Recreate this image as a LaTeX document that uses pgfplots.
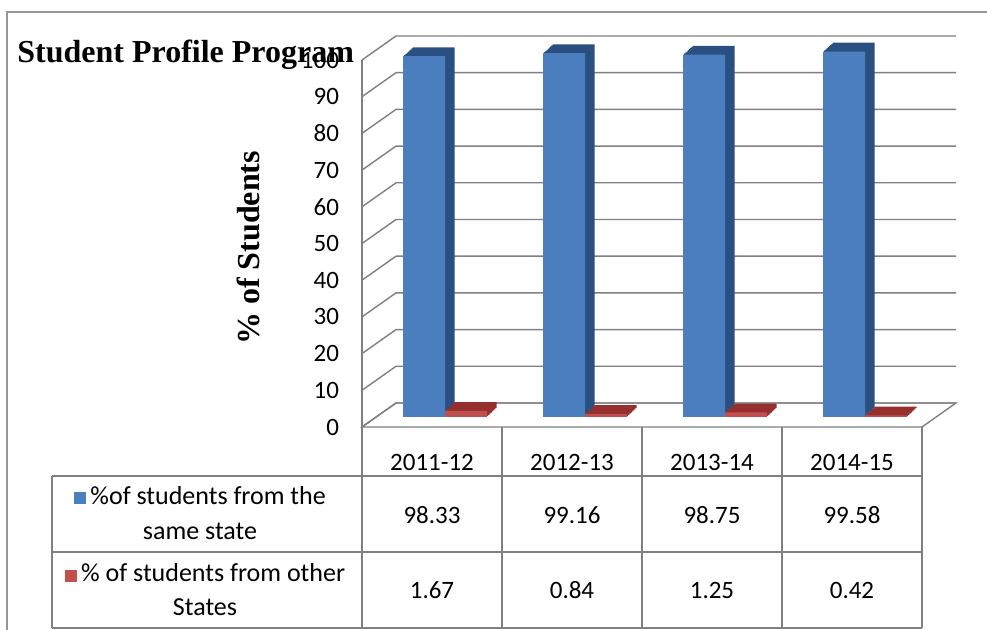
\documentclass[border=0pt]{standalone}
\usepackage{pgfplots}
\pgfplotsset{compat=1.18}
\usepackage{pgfplotstable}
\usepackage{fontspec}
\setmainfont{Carlito}
\newfontfamily\tnr{Liberation Serif}

\definecolor{bluefront}{RGB}{74,126,190}
\definecolor{blueside}{RGB}{42,80,130}
\definecolor{redfront}{RGB}{192,80,77}
\definecolor{redside}{RGB}{150,48,46}
\definecolor{gridc}{RGB}{128,128,128}
\definecolor{framec}{RGB}{150,150,150}

% one row per academic year
\pgfplotstableread{
x same other
0 98.33 1.67
1 99.16 0.84
2 98.75 1.25
3 99.58 0.42
}\students

\begin{document}
\begin{tikzpicture}
% pixel scope: (x,y) as in the 987x630 picture, y down
\begin{scope}[x=0.5pt,y=-0.5pt,yshift=315pt]
  \useasboundingbox (0,0) rectangle (987,630);
  \fill[white] (0,0) rectangle (987,630);
  \draw[framec, line width=0.8pt] (7,630) -- (7,12) -- (987,12);
\end{scope}

\begin{axis}[
    at={(181pt,101.5pt)}, anchor=south west,
    scale only axis, width=280pt, height=183.5pt,
    xmin=-0.5, xmax=3.5, ymin=0, ymax=100,
    xtick=\empty,
    ytick={0,10,...,100},
    axis line style={draw=none},
    tick style={draw=none},
    yticklabel style={font=\fontsize{12.5}{15}\selectfont, xshift=-8pt},
    /pgf/number format/assume math mode=true,
    ybar, bar width=21pt,
    clip=false,
  ]
  % walls and floor of the 3-d frame
  \pgfplotsinvokeforeach{0,10,...,100}{
    \draw[gridc, line width=0.7pt] (axis cs:-0.5,#1) -- ++(17pt,12pt) -- ++(280pt,0pt);
  }
  \draw[gridc, line width=0.7pt] (axis cs:-0.5,0) -- ++(17pt,12pt) -- ++(280pt,0pt)
    -- (axis cs:3.5,0) -- cycle;
  \draw[gridc, line width=0.7pt] (axis cs:-0.5,0) -- (axis cs:-0.5,100);

  % depth of the columns: shifted copies behind the front faces
  \pgfplotsinvokeforeach{8,7,...,1}{
    \addplot[fill=blueside, draw=none, bar shift=-10.5pt,
      xshift=6.5pt+#1*0.6pt, yshift=5pt+#1*0.55pt] table[x=x,y=same]{\students};
    \addplot[fill=redside, draw=none, bar shift=10.5pt,
      xshift=6.5pt+#1*0.6pt, yshift=5pt+#1*0.55pt] table[x=x,y=other]{\students};
  }
  \addplot[fill=bluefront, draw=none, bar shift=-10.5pt, xshift=6.5pt, yshift=5pt]
    table[x=x,y=same]{\students};
  \addplot[fill=redfront, draw=none, bar shift=10.5pt, xshift=6.5pt, yshift=5pt]
    table[x=x,y=other]{\students};
\end{axis}

\begin{scope}[x=0.5pt,y=-0.5pt,yshift=315pt]
  \node[font=\tnr\bfseries\fontsize{16}{19}\selectfont, anchor=west, inner sep=0pt]
    at (17,55) {Student Profile Program};
  \node[font=\tnr\bfseries\fontsize{16}{19}\selectfont, rotate=90]
    at (248,248) {\% of Students};

  % data table
  \begin{scope}[gridc, line width=0.75pt]
    \draw (52,476) -- (922,476);
    \draw (52,552) -- (922,552);
    \draw (52,628) -- (922,628);
    \draw (52,476) -- (52,628);
    \foreach \x in {362,502,642,782,922} \draw (\x,427) -- (\x,628);
  \end{scope}
  \begin{scope}[font=\fontsize{12.5}{15}\selectfont]
    \foreach \x/\t in {432/2011-12, 572/2012-13, 712/2013-14, 852/2014-15}
      \node at (\x,462) {\t};
    \foreach \x/\t in {432/98.33, 572/99.16, 712/98.75, 852/99.58}
      \node at (\x,515) {\t};
    \foreach \x/\t in {432/1.67, 572/0.84, 712/1.25, 852/0.42}
      \node at (\x,590) {\t};
  \end{scope}
  \node[font=\fontsize{13}{17.5}\selectfont, align=center] at (200,513)
    {\textcolor{bluefront}{\rule{6pt}{6pt}}\,\%of students from the\\same state};
  \node[font=\fontsize{13}{17}\selectfont, align=center] at (205,590)
    {\textcolor{redfront}{\rule{6pt}{6pt}}\,\% of students from other\\States};
\end{scope}
\end{tikzpicture}
\end{document}
